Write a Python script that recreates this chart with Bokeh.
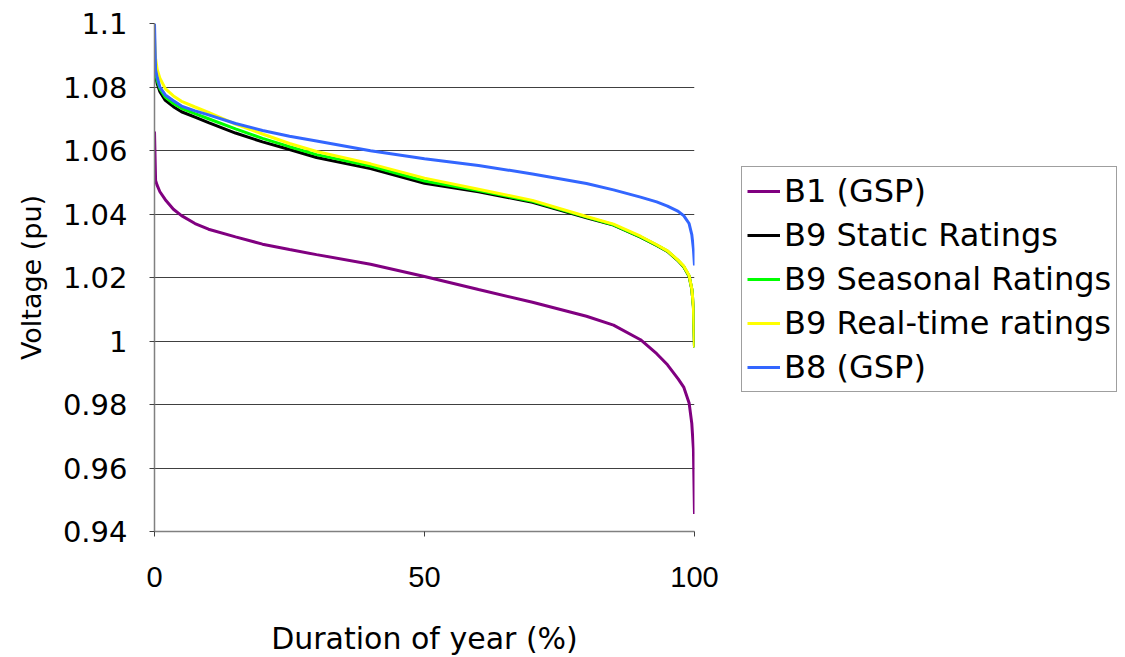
from bokeh.plotting import figure
from bokeh.models import FixedTicker, CustomJSTickFormatter, Legend, LegendItem, Range1d
from bokeh.embed import file_html
from bokeh.resources import INLINE

# Duration of year (%)
duration = [0, 0.2, 0.5, 1, 2, 3.5, 5, 7.5, 10, 15, 20, 25, 30, 40, 50, 60, 70,
            80, 85, 90, 93, 95, 97, 98, 99, 99.5, 99.8, 100]

b1_gsp = [1.066, 1.0506, 1.049, 1.047, 1.0445, 1.0415, 1.0395, 1.037, 1.0352, 1.0328,
          1.0305, 1.0288, 1.0272, 1.0242, 1.0203, 1.0162, 1.0122, 1.0078, 1.005,
          1.0004, 0.996, 0.9925, 0.988, 0.9855, 0.9805, 0.974, 0.966, 0.9455]

b9_static = [1.087, 1.0836, 1.081, 1.0785, 1.0758, 1.0738, 1.0722, 1.0705, 1.0688,
             1.0655, 1.0627, 1.0603, 1.0578, 1.0543, 1.0497, 1.047, 1.0437, 1.0388,
             1.0365, 1.0327, 1.0301, 1.0282, 1.0252, 1.0234, 1.0204, 1.0163, 1.0108, 0.998]

b9_seasonal = [1.088, 1.0845, 1.082, 1.0795, 1.0768, 1.0748, 1.0733, 1.0716, 1.07,
               1.0668, 1.0638, 1.0612, 1.0587, 1.0551, 1.0504, 1.0474, 1.044, 1.039,
               1.0366, 1.0328, 1.0302, 1.0283, 1.0253, 1.0235, 1.0205, 1.0164, 1.0109, 0.998]

b9_realtime = [1.0955, 1.089, 1.0855, 1.0828, 1.0795, 1.0772, 1.0755, 1.0737, 1.072,
               1.0683, 1.0652, 1.0622, 1.0597, 1.0558, 1.0513, 1.0478, 1.0443, 1.0392,
               1.0368, 1.033, 1.0303, 1.0284, 1.0254, 1.0236, 1.0206, 1.0165, 1.011, 0.998]

b8_gsp = [1.1, 1.0855, 1.083, 1.08, 1.0775, 1.0757, 1.074, 1.0725, 1.0712, 1.0685,
          1.0663, 1.0645, 1.063, 1.0599, 1.0574, 1.0553, 1.0526, 1.0496, 1.0476,
          1.0453, 1.0438, 1.0425, 1.0408, 1.0395, 1.037, 1.0335, 1.029, 1.0238]

series_names = ["B1 (GSP)", "B9 Static Ratings", "B9 Seasonal Ratings",
                "B9 Real-time ratings", "B8 (GSP)"]
series_colors = ["#800080", "#000000", "#00FF00", "#FFFF00", "#3366FF"]
series_values = [b1_gsp, b9_static, b9_seasonal, b9_realtime, b8_gsp]

y_ticks = [0.94, 0.96, 0.98, 1.0, 1.02, 1.04, 1.06, 1.08, 1.1]
x_ticks = [0, 50, 100]

FONT = "DejaVu Sans"

p = figure(output_backend="svg", toolbar_location=None,
           x_range=Range1d(0, 100), y_range=Range1d(0.94, 1.1),
           frame_width=540, frame_height=508,
           min_border_left=154, min_border_right=420,
           min_border_top=23, min_border_bottom=100)
p.outline_line_color = None
p.background_fill_color = "white"
p.border_fill_color = "white"

renderers = []
for name, color, vals in zip(series_names, series_colors, series_values):
    r = p.line(duration, vals, line_color=color, line_width=3)
    renderers.append((name, r))

# axes
p.xaxis.ticker = FixedTicker(ticks=x_ticks)
p.yaxis.ticker = FixedTicker(ticks=y_ticks)
p.yaxis.formatter = CustomJSTickFormatter(
    code="return tick.toFixed(2).replace(/0+$/, '').replace(/\\.$/, '');")
p.xgrid.grid_line_color = None
p.ygrid.grid_line_color = "#404040"
p.ygrid.grid_line_width = 1

for ax in (p.xaxis[0], p.yaxis[0]):
    ax.axis_line_color = "#808080"
    ax.axis_line_width = 1.5
    ax.major_tick_line_color = "#404040"
    ax.major_tick_in = 0
    ax.major_tick_out = 5
    ax.minor_tick_line_color = None
    ax.major_label_text_color = "black"
    ax.axis_label_text_color = "black"
    ax.axis_label_text_font_style = "normal"

p.yaxis.major_label_text_font = FONT
p.yaxis.major_label_text_font_size = "29px"
p.yaxis.major_label_standoff = 22
p.yaxis.axis_label = "Voltage (pu)"
p.yaxis.axis_label_text_font = FONT
p.yaxis.axis_label_text_font_size = "27px"
p.yaxis.axis_label_standoff = 13

p.xaxis.major_label_text_font = "Liberation Sans"
p.xaxis.major_label_text_font_size = "29px"
p.xaxis.major_label_standoff = 30
p.xaxis.axis_label = "Duration of year (%)"
p.xaxis.axis_label_text_font = FONT
p.xaxis.axis_label_text_font_size = "30px"
p.xaxis.axis_label_standoff = 31

legend = Legend(items=[LegendItem(label=n, renderers=[r]) for n, r in renderers],
                location=(47, 139))
legend.label_text_font = FONT
legend.label_text_font_size = "32px"
legend.label_text_color = "black"
legend.glyph_width = 33
legend.glyph_height = 36
legend.label_height = 36
legend.label_standoff = 4
legend.spacing = 6
legend.padding = 5
legend.margin = 0
legend.border_line_color = "#404040"
legend.border_line_width = 1
legend.background_fill_alpha = 1
p.add_layout(legend, "right")

open("out.html", "w").write(file_html(p, INLINE))
